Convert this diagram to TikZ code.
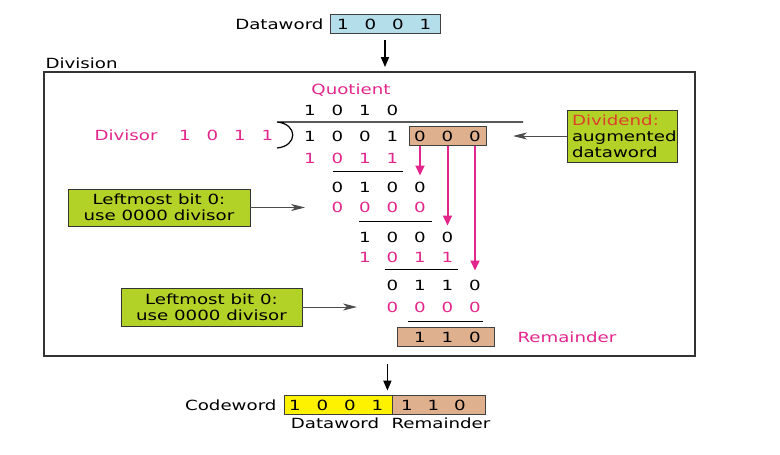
\documentclass[tikz,border=0pt]{standalone}
\usepackage{fontspec}
\setmainfont[FakeStretch=1.3]{DejaVu Sans}
\usetikzlibrary{arrows.meta}
\definecolor{crcpink}{RGB}{226,38,140}
\definecolor{crctan}{RGB}{222,176,142}
\definecolor{crcblue}{RGB}{180,222,234}
\definecolor{crcgreen}{RGB}{178,210,40}
\definecolor{crcred}{RGB}{222,64,40}
\tikzset{
  bit/.style={inner sep=0pt},
  word/.style={draw=black!75,line width=.8pt,inner sep=0pt,minimum height=19pt},
  note/.style={draw=black!80,fill=crcgreen,line width=.8pt,align=center,inner sep=0pt},
  hint/.style={-{Stealth[length=14pt,width=7pt,inset=4pt]},line width=.9pt,black!70},
  drop/.style={-{Triangle[length=10pt,width=9pt]},line width=2pt,crcpink},
  down/.style={-{Triangle[length=10pt,width=8pt]},line width=1.6pt},
}
\begin{document}
\begin{tikzpicture}[x=1pt,y=-1pt,font=\fontsize{14}{16}\selectfont]
	\useasboundingbox (0,0) rectangle (780,455);
	% dataword in
	\node[word,fill=crcblue,minimum width=110pt] (dw) at (385,24) {};
	\node[anchor=east] (dwl) at (327,24) {Dataword};
	\foreach \b [count=\i from 0] in {1,0,0,1}
		\node[bit] (dw\i) at ({343+27.5*\i},24) {\b};
	% division frame
	\node[draw=black!80,line width=1.8pt,minimum width=651pt,minimum height=284pt,inner sep=0pt] (frame) at (369.5,214) {};
	\node[anchor=west] (divl) at (42,63.5) {Division};
	\draw[down] ([yshift=-6.5pt]dw.south) -- ([yshift=4pt]frame.north -| dw.south);
	% quotient and divisor
	\node[crcpink] (quo) at (351,90) {Quotient};
	\foreach \b [count=\i from 0] in {1,0,1,0}
		\node[bit] (q\i) at ({310+27.5*\i},110) {\b};
	\node[crcpink] (dvl) at (126,135) {Divisor};
	\foreach \b [count=\i from 0] in {1,0,1,1}
		\node[bit,crcpink] (v\i) at ({185+27.5*\i},135) {\b};
	\draw[line width=1.2pt] (523,122) -- (277,122) .. controls (298,124) and (298,146) .. (277,148);
	% dividend
	\node[word,fill=crctan,minimum width=77pt] (aug) at (447.5,136) {};
	\foreach \b [count=\i from 0] in {1,0,0,1,0,0,0}
		\node[bit] (d\i) at ({310+27.5*\i},136) {\b};
	\node[note,align=left,minimum width=110pt,minimum height=52pt,text width=100pt] (dnote) at (622,136) {\textcolor{crcred}{Dividend:}\\augmented\\dataword};
	\coordinate (dtip) at (513,136);
	\draw[hint] (dnote.west) -- (dtip);
	% steps of the division
	\foreach \r/\c/\y/\col/\bits in {2/0/158/crcpink/{1,0,1,1},3/1/187/black/{0,1,0,0},4/1/207/crcpink/{0,0,0,0},5/2/237/black/{1,0,0,0},6/2/257/crcpink/{1,0,1,1},7/3/285/black/{0,1,1,0},8/3/307/crcpink/{0,0,0,0}}
		\foreach \b [count=\i from \c] in \bits
			\node[bit,text=\col] (r\r-\i) at ({310+27.5*\i},\y) {\b};
	\foreach \y/\a/\e in {171/333/403,221/359/432,269/385/458,321/408/483}
		\draw[line width=1pt] (\a,\y) -- (\e,\y);
	\draw[drop] (aug.south -| d4) -- ([yshift=6pt]r3-4.north);
	\draw[drop] (aug.south -| d5) -- ([yshift=6pt]r5-5.north);
	\draw[drop] (aug.south -| d6) -- ([yshift=9pt]r7-6.north);
	% remainder
	\node[word,fill=crctan,minimum width=97pt] (rem) at (446,337) {};
	\foreach \b [count=\i from 4] in {1,1,0}
		\node[bit] (m\i) at ({310+27.5*\i},337) {\b};
	\node[crcpink,anchor=west] (reml) at (514,337) {Remainder};
	% notes
	\node[note,minimum width=182pt,minimum height=37pt] (n1) at (159,207.5) {Leftmost bit 0:\\use 0000 divisor};
	\coordinate (t1) at (305,207.5);
	\draw[hint] (n1) -- (t1);
	\node[note,minimum width=181pt,minimum height=38pt] (n2) at (211.5,307) {Leftmost bit 0:\\use 0000 divisor};
	\coordinate (t2) at (357,307);
	\draw[hint] (n2) -- (t2);
	% codeword out
	\node[word,fill=yellow,minimum width=108pt] (cw) at (338,404.5) {};
	\node[word,fill=crctan,minimum width=93pt] (cr) at (438.5,404.5) {};
	\foreach \b [count=\i from 0] in {1,0,0,1}
		\node[bit] (c\i) at ({295+27.5*\i},405) {\b};
	\foreach \b [count=\i from 0] in {1,1,0}
		\node[bit] (e\i) at ({407+26.5*\i},405) {\b};
	\node[anchor=east] (cwl) at (280,405) {Codeword};
	\node (cwd) at (335,423) {Dataword};
	\node (cwr) at (441,423) {Remainder};
	\draw[down] ([xshift=-5pt,yshift=-7pt]frame.south -| cw.east) -- ([xshift=-5pt,yshift=4pt]cw.north east);
\end{tikzpicture}
\end{document}
